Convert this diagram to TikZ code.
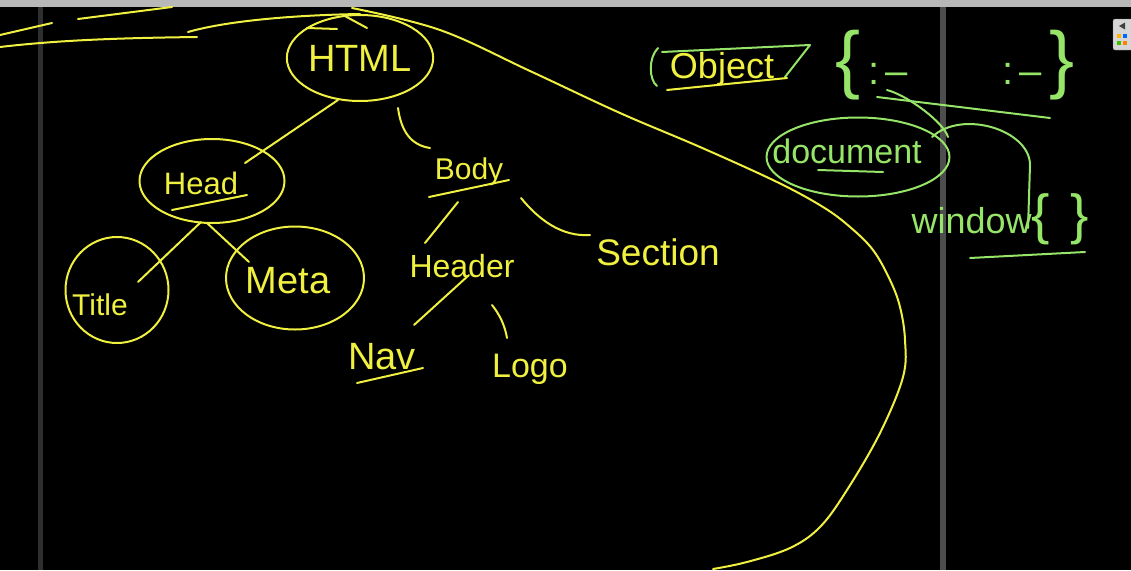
\documentclass[tikz,border=0pt]{standalone}
\usepackage{fontspec}
\setmainfont{Liberation Sans}
\usetikzlibrary{shapes.geometric,calc}

\definecolor{inkyellow}{RGB}{240,240,64}
\definecolor{inkgreen}{RGB}{150,228,104}
\definecolor{barback}{RGB}{184,184,184}
\definecolor{splitgray}{RGB}{46,46,46}
\definecolor{paneback}{RGB}{214,214,214}

\newcommand{\inksize}[1]{\fontsize{#1}{#1}\selectfont}

\tikzset{
	ink/.style={line width=2pt, line cap=round, line join=round},
	inky/.style={ink, draw=inkyellow},
	inkg/.style={ink, draw=inkgreen},
	word/.style={inner sep=0pt, text=inkyellow},
	wordg/.style={inner sep=0pt, text=inkgreen},
	ring/.style={ellipse, inky, inner sep=0pt},
	ringg/.style={ellipse, inkg, inner sep=0pt},
}

\begin{document}
\begin{tikzpicture}[x=1pt,y=-1pt]

	\useasboundingbox (0,0) rectangle (1131,570);
	\fill[black] (0,0) rectangle (1131,570);
	\fill[barback] (0,0) rectangle (1131,7);
	\fill[splitgray] (38,7) rectangle (43,570);
	\fill[splitgray!85!white] (940,7) rectangle (946,570);

	% side panel
	\filldraw[fill=paneback, draw=gray, rounded corners=2pt] (1113,19) rectangle (1136,50);
	\fill[darkgray] (1119,26) -- (1125,22.5) -- (1125,29.5) -- cycle;
	\fill[orange!60!yellow] (1117,34) rectangle (1121,38);
	\fill[blue!60!cyan] (1123,34) rectangle (1127,38);
	\fill[green!50!olive] (1117,41) rectangle (1121,45);
	\fill[orange] (1123,41) rectangle (1127,45);

	% tree
	\node[ring, minimum width=135pt, minimum height=86pt, text=inkyellow, font=\inksize{38}] (html) at (360,58) {HTML};

	\node[ring, minimum width=145pt, minimum height=84pt] (head) at (212,181) {};
	\node[word, font=\inksize{31}] (headtext) at (201,183) {Head};
	\node[ring, minimum width=103pt, minimum height=106pt] (title) at (117,290) {};
	\node[word, font=\inksize{30}] (titletext) at (100,305) {Title};
	\node[ring, minimum width=138pt, minimum height=103pt] (meta) at (295,278) {};
	\node[word, font=\inksize{38}] (metatext) at (288,281) {Meta};

	\node[word, font=\inksize{30}] (body) at (469,172) {Body};
	\node[word, font=\inksize{32}] (header) at (462,266) {Header};
	\node[word, font=\inksize{37}] (section) at (658,252) {Section};
	\node[word, font=\inksize{38}] (nav) at (382,357) {Nav};
	\node[word, font=\inksize{34}] (logo) at (530,369) {Logo};

	\draw[inky] ($(html)+(-22,42)$) -- ($(head)+(33,-18)$);
	\draw[inky] ($(html)+(38,50)$) .. controls +(3,22) and +(-20,-3) .. ($(body)+(-39,-24)$);
	\draw[inky] ($(head)+(-11,41)$) -- ($(title)+(21,-8)$);
	\draw[inky] ($(head)+(-5,42)$) -- ($(meta)+(-46,-16)$);
	\draw[inky] ($(body)+(-11,30)$) -- ($(header)+(-37,-23)$);
	\draw[inky] ($(body)+(52,26)$) .. controls +(18,22) and +(-28,2) .. ($(section)+(-68,-17)$);
	\draw[inky] ($(header)+(7,9)$) -- ($(nav)+(32,-32)$);
	\draw[inky] ($(header)+(30,39)$) .. controls +(8,10) and +(-2,-12) .. ($(logo)+(-23,-31)$);

	\draw[inky] ($(headtext)+(-29,27)$) -- ($(headtext)+(46,12)$);
	\draw[inky] ($(body)+(-40,25)$) -- ($(body)+(40,8)$);
	\draw[inky] ($(nav)+(-25,26)$) -- ($(nav)+(41,11)$);

	% strokes round the top
	\draw[inky] (0,35) -- (52,23);
	\draw[inky] (78,19) -- (172,7);
	\draw[inky] (0,47) .. controls (60,40) and (120,38) .. (197,37);
	\draw[inky] (188,32) .. controls (230,20) and (300,15) .. (html.north);
	\draw[inky] (307,28) -- (337,29);
	\draw[inky] (343,15) -- (367,28);
	\draw[inky] plot[smooth, tension=0.6] coordinates {(352,8) (440,30) (530,71) (620,113) (700,147) (777,182) (823,207) (850,227) (873,250) (890,280) (900,307) (905,340) (903,377) (880,433) (847,490) (820,527) (790,548) (747,562) (713,569)};

	% objects
	\node[word, font=\inksize{36}] (object) at (722,69) {Object};
	\draw[inkg] ($(object)+(-64,-21)$) .. controls +(-10,10) and +(-8,-6) .. ($(object)+(-65,17)$);
	\draw[inkg] ($(object)+(-60,-17)$) -- ($(object)+(88,-24)$) -- ($(object)+(63,8)$);
	\draw[inky] ($(object)+(-55,21)$) -- ($(object)+(65,9)$);

	\node[wordg] (literal) at (955,65) {{\inksize{75}\{}\hspace{8pt}{\inksize{40}:\hspace{6pt}–\hspace{95pt}:\hspace{6pt}–}\hspace{8pt}{\inksize{75}\}}};
	\draw[inkg] ($(literal)+(-78,32)$) -- ($(literal)+(95,53)$);

	\node[ringg, minimum width=183pt, minimum height=79pt] (docring) at (858,157) {};
	\node[wordg, font=\inksize{34}] (doc) at (847,151) {document};
	\draw[inkg] ($(doc)+(-29,19)$) -- ($(doc)+(36,21)$);
	\draw[inkg] ($(literal)+(-68,25)$) .. controls +(22,6) and +(-4,-14) .. ($(docring)+(90,-20)$);

	\node[wordg] (window) at (1000,219) {{\inksize{36}window}{\inksize{55}\{\hspace{20pt}\}}};
	\draw[inkg] ($(window)+(-30,39)$) -- ($(window)+(85,33)$);
	\draw[inkg] ($(docring)+(74,-20)$) .. controls +(30,-28) and +(0,-35) .. ($(window)+(30,-54)$) -- ($(window)+(28,9)$);

\end{tikzpicture}
\end{document}
